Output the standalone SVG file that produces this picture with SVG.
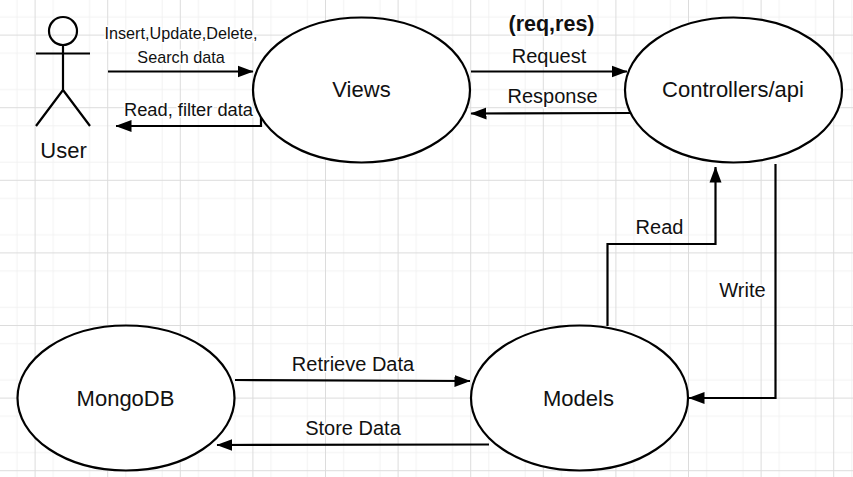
<svg xmlns="http://www.w3.org/2000/svg" width="853" height="477" viewBox="0 0 853 477">
<style>
text{font-family:"Liberation Sans",Arial,sans-serif;fill:#111;text-anchor:middle;font-size:20px}
#edge-labels text{paint-order:stroke;stroke:#fff;stroke-width:3px}
.big{font-size:22px}
.small{font-size:16.200px}
.node{fill:#fff;stroke:#000;stroke-width:2.2}
.line{fill:none;stroke:#000;stroke-width:2.2}
.conn{fill:none;stroke:#000;stroke-width:2.2;marker-end:url(#arrow)}
.minor{stroke:#f2f2f2;stroke-width:1}
.major{stroke:#dcdcdc;stroke-width:1}
</style>
<defs>
<marker id="arrow" markerUnits="userSpaceOnUse" markerWidth="16" markerHeight="16" viewBox="0 0 16 16" refX="15.500" refY="8" orient="auto"><path d="M0 2L16 8L0 14Z" fill="#000"/></marker>
<pattern id="gridp" patternUnits="userSpaceOnUse" x="-1.2" y="-1.2" width="72.6" height="72.6">
<path class="minor" d="M18.15 0V72.6M36.3 0V72.6M54.45 0V72.6M0 18.15H72.6M0 36.3H72.6M0 54.45H72.6"/>
<path class="major" d="M36.3 0V72.6M0 36.3H72.6"/>
</pattern>
</defs>
<rect width="853" height="477" fill="#fff"/>
<rect width="853" height="477" fill="url(#gridp)"/>
<g id="connectors">
<path class="conn" d="M108 71.500H253"/>
<path class="conn" d="M261 108V126H116"/>
<path class="conn" d="M471 71.500H627"/>
<path class="conn" d="M633 113L471 113.500"/>
<path class="conn" d="M607.500 326V244H715.500V167"/>
<path class="conn" d="M775.500 164V398H689"/>
<path class="conn" d="M235 380L470 381"/>
<path class="conn" d="M489 444.500L217 445"/>
<g id="edge-labels">
<text class="small" x="181" y="39.300">Insert,Update,Delete,</text>
<text class="small" x="181" y="63.300">Search data</text>
<text x="188.500" y="116" style="font-size:18.300px">Read, filter data</text>
<text x="551.500" y="31" style="font-size:21.500px;font-weight:bold">(req,res)</text>
<text x="549" y="62.700">Request</text>
<text x="552.500" y="102.700">Response</text>
<text x="659.500" y="233.500">Read</text>
<text x="742.500" y="297">Write</text>
<text x="353" y="371">Retrieve Data</text>
<text x="353" y="435">Store Data</text>
</g>
</g>
<g id="user">
<circle class="line" cx="63" cy="31" r="14"/>
<path class="line" d="M63 45V90M36 53.500H90M63 90L36 126M63 90L90 126"/>
<text class="big" x="63.500" y="158">User</text>
</g>
<g id="views">
<ellipse class="node" cx="361.500" cy="90" rx="108.500" ry="72.500"/>
<text class="big" x="361.500" y="97">Views</text>
</g>
<g id="controllers">
<ellipse class="node" cx="733.500" cy="90" rx="108.500" ry="72.500"/>
<text class="big" x="733" y="97">Controllers/api</text>
</g>
<g id="models">
<ellipse class="node" cx="579.500" cy="398" rx="108.500" ry="72.500"/>
<text class="big" x="578.500" y="405.500">Models</text>
</g>
<g id="mongodb">
<ellipse class="node" cx="126" cy="398" rx="108.500" ry="72.500"/>
<text class="big" x="125.500" y="405.500">MongoDB</text>
</g>
</svg>
